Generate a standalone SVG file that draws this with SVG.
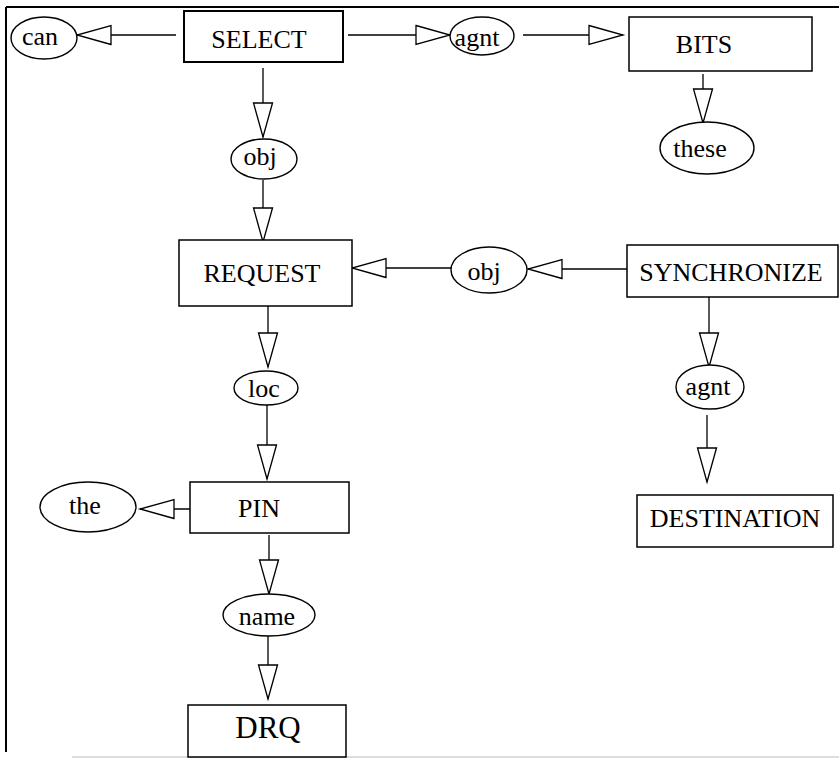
<svg xmlns="http://www.w3.org/2000/svg" width="839" height="759" viewBox="0 0 839 759">
<defs>
<style>
.box{fill:#fff;stroke:#000;stroke-width:1.5}
.ell{fill:#fff;stroke:#000;stroke-width:1.4}
.t{font-family:"Liberation Serif","Times New Roman",serif;font-size:26px;fill:#000;text-anchor:middle}
.c{stroke:#000;stroke-width:1.3;fill:none;marker-end:url(#ah)}
</style>
<marker id="ah" markerUnits="userSpaceOnUse" markerWidth="38" markerHeight="24" viewBox="0 0 38 24" refX="35" refY="12" orient="auto">
<path d="M1,2.5 L35,12 L1,21.5 Z" fill="#fff" stroke="#000" stroke-width="1.3"/>
</marker>
</defs>
<rect width="839" height="759" fill="#fff"/>
<g id="frame" stroke="#000" fill="none">
<line x1="6" y1="7" x2="839" y2="7" stroke-width="2"/>
<line x1="6" y1="7" x2="6" y2="752" stroke-width="2"/>
<line x1="72" y1="757" x2="839" y2="757" stroke="#bbb" stroke-width="1.2"/>
</g>
<g id="connectors">
<line class="c" x1="176" y1="35" x2="77" y2="35"/>
<line class="c" x1="348" y1="35" x2="450" y2="35"/>
<line class="c" x1="523" y1="35" x2="623" y2="35"/>
<line class="c" x1="703" y1="74" x2="703" y2="123"/>
<line class="c" x1="263" y1="68" x2="263" y2="137"/>
<line class="c" x1="263" y1="180" x2="263" y2="242"/>
<line class="c" x1="627" y1="269" x2="528" y2="269"/>
<line class="c" x1="451" y1="268" x2="352" y2="268"/>
<line class="c" x1="709" y1="297" x2="709" y2="367"/>
<line class="c" x1="707" y1="415" x2="707" y2="482"/>
<line class="c" x1="268" y1="306" x2="268" y2="367"/>
<line class="c" x1="267" y1="405" x2="267" y2="479"/>
<line class="c" x1="190" y1="509" x2="140" y2="509"/>
<line class="c" x1="269" y1="535" x2="269" y2="594"/>
<line class="c" x1="268" y1="636" x2="268" y2="699"/>
</g>
<g id="SELECT"><rect class="box" x="184" y="11" width="159" height="51" style="stroke-width:2"/><text class="t" x="259" y="48">SELECT</text></g>
<g id="can"><ellipse class="ell" cx="44" cy="38" rx="33" ry="21"/><text class="t" x="40" y="45">can</text></g>
<g id="agnt1"><ellipse class="ell" cx="482" cy="36" rx="32" ry="19"/><text class="t" x="477" y="46">agnt</text></g>
<g id="BITS"><rect class="box" x="629" y="17" width="183" height="54"/><text class="t" x="704" y="53">BITS</text></g>
<g id="these"><ellipse class="ell" cx="707" cy="148" rx="47" ry="26"/><text class="t" x="700" y="157">these</text></g>
<g id="obj1"><ellipse class="ell" cx="264" cy="159" rx="33" ry="20"/><text class="t" x="260" y="165">obj</text></g>
<g id="REQUEST"><rect class="box" x="179" y="240" width="173" height="66"/><text class="t" x="262" y="282">REQUEST</text></g>
<g id="obj2"><ellipse class="ell" cx="489" cy="270" rx="38" ry="23"/><text class="t" x="484" y="280">obj</text></g>
<g id="SYNCHRONIZE"><rect class="box" x="627" y="245" width="211" height="52"/><text class="t" x="731" y="281">SYNCHRONIZE</text></g>
<g id="agnt2"><ellipse class="ell" cx="710" cy="387" rx="34" ry="22"/><text class="t" x="708" y="395">agnt</text></g>
<g id="DESTINATION"><rect class="box" x="637" y="495" width="196" height="52"/><text class="t" x="735" y="527">DESTINATION</text></g>
<g id="loc"><ellipse class="ell" cx="266" cy="388" rx="32" ry="17"/><text class="t" x="264" y="397">loc</text></g>
<g id="PIN"><rect class="box" x="190" y="482" width="159" height="51"/><text class="t" x="259" y="517">PIN</text></g>
<g id="the"><ellipse class="ell" cx="88" cy="507" rx="48" ry="25"/><text class="t" x="85" y="514">the</text></g>
<g id="name"><ellipse class="ell" cx="269" cy="615" rx="46" ry="21"/><text class="t" x="267" y="625">name</text></g>
<g id="DRQ"><rect class="box" x="188" y="705" width="158" height="52"/><text class="t" x="268" y="738" style="font-size:31px">DRQ</text></g>
</svg>
